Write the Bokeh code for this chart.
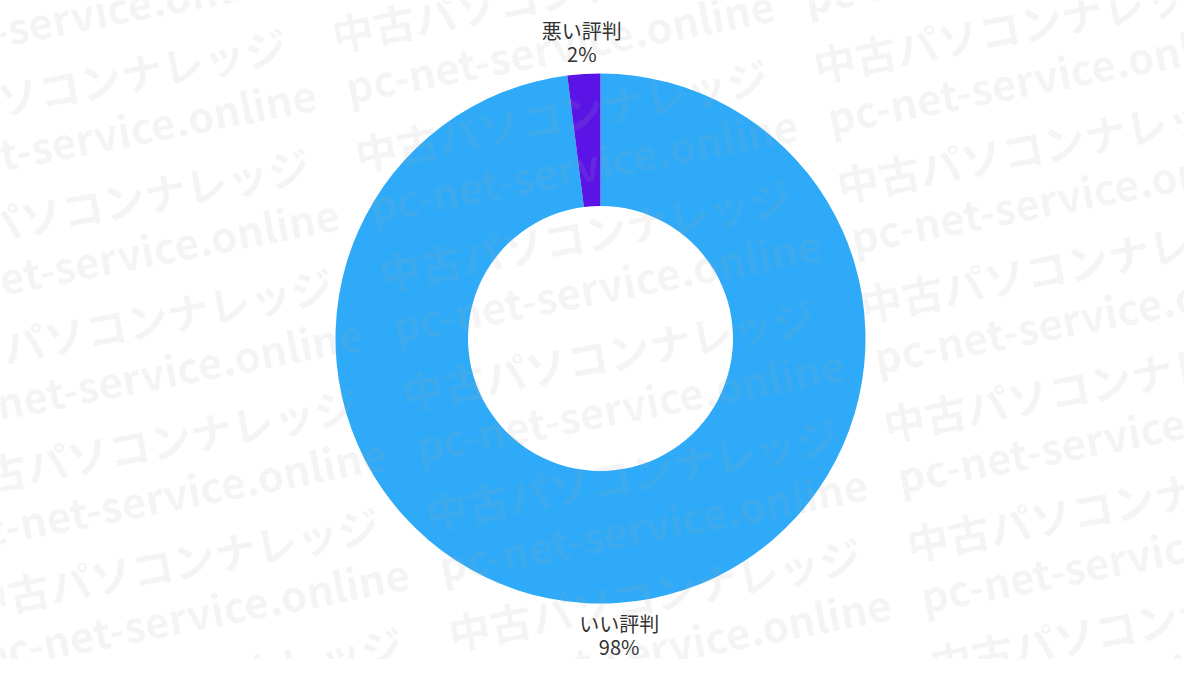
import numpy as np
from bokeh.plotting import figure
from bokeh.models import Range1d, ColumnDataSource
from bokeh.core.properties import value
from bokeh.embed import file_html
from bokeh.resources import INLINE

# ---- data ----
labels = ["いい評判", "悪い評判"]
values = [98, 2]
pct_labels = ["98%", "2%"]
colors = ["#2EAAF8", "#5A14E6"]
wm_line1 = "中古パソコンナレッジ"
wm_line2 = "pc-net-service.online"

# ---- canvas: data coords = screen px (y flipped up) ----
PAGE_H = 675
p = figure(width=1184, height=659, x_range=Range1d(0, 1184), y_range=Range1d(16, 675),
           output_backend="svg", toolbar_location=None, min_border=0)
p.axis.visible = False
p.grid.visible = False
p.outline_line_color = None
p.background_fill_color = "white"
p.border_fill_color = "white"

cx, cy = 600, PAGE_H - 338
R_out, R_in = 265, 132.5

frac = np.array(values, dtype=float) / sum(values)
cum = np.concatenate([[0.0], np.cumsum(frac)])
start = np.pi / 2 - cum[1:] * 2 * np.pi
end = np.pi / 2 - cum[:-1] * 2 * np.pi
mid = (start + end) / 2

src = ColumnDataSource(dict(start=start, end=end, color=colors, label=labels))
p.annular_wedge(x=cx, y=cy, inner_radius=R_in, outer_radius=R_out,
                start_angle="start", end_angle="end", fill_color="color",
                line_color=None, source=src)

# ---- watermark ----
theta = np.deg2rad(11)
D, P = 467, 122
ux, uy = np.cos(theta), np.sin(theta)
px_, py_ = np.sin(theta), -np.cos(theta)
ox, oy = 813, PAGE_H - 64
wx1, wy1, wx2, wy2 = [], [], [], []
for i in range(-5, 9):
    for j in range(-4, 5):
        x = ox + j * D * ux + i * P * px_
        y = oy + j * D * uy + i * P * py_
        if -520 < x < 1250 and -150 < y < 850:
            wx1.append(x); wy1.append(y)
            wx2.append(x + 14); wy2.append(y - 52)
wm_kw = dict(angle=theta, text_font=value("Noto Sans CJK JP"), text_font_style="bold",
             text_font_size="42px", text_color="#aaaaaa", text_alpha=0.12,
             text_align="left", text_baseline="alphabetic")
p.text(x=wx1, y=wy1, text=[wm_line1] * len(wx1), **wm_kw)
p.text(x=wx2, y=wy2, text=[wm_line2] * len(wx2), **wm_kw)

# ---- labels ----
r_lbl = 297
lx = cx + r_lbl * np.cos(mid)
ly = cy + r_lbl * np.sin(mid)
lbl_kw = dict(text_font=value("Noto Sans CJK JP"), text_font_size="20px",
              text_color="#333333", text_align="center", text_baseline="middle")
p.text(x=lx, y=ly + 11.5, text=labels, **lbl_kw)
p.text(x=lx, y=ly - 11.5, text=pct_labels, **lbl_kw)

open("out.html", "w").write(file_html(p, INLINE))
